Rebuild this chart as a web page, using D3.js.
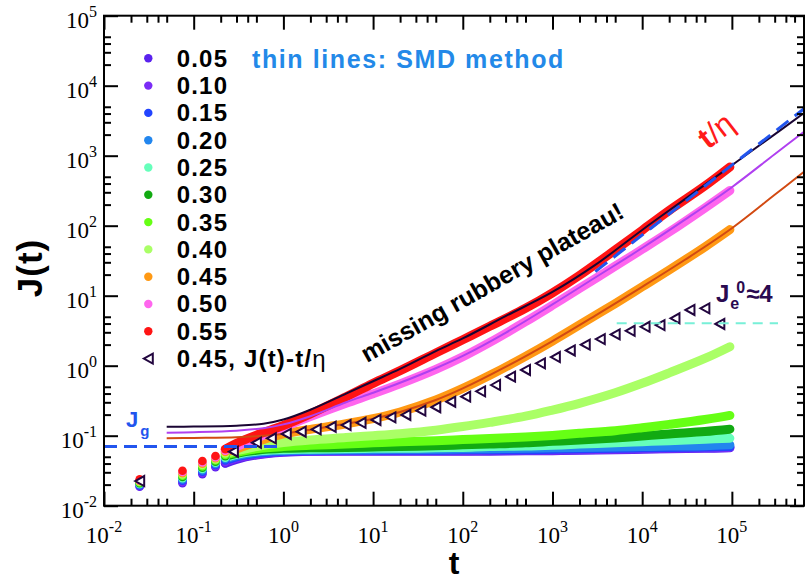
<!DOCTYPE html>
<html>
<head>
<meta charset="utf-8">
<script src="https://cdn.jsdelivr.net/npm/d3@7"></script>
<style>
  body { margin: 0; background: #fff; }
  svg { display: block; }
</style>
</head>
<body>
<svg id="chart" width="805" height="581"></svg>
<script>
// ---- data -------------------------------------------------------------
// sampling times of the creep compliance J(t); the first five are drawn as
// separate dots, the rest (from index 4) merge into a thick band
const times = [0.025, 0.075, 0.125, 0.175, 0.225, 0.3, 0.5, 1, 2, 5, 10, 20, 50, 100,
               200, 500, 1000, 2000, 5000, 10000, 20000, 50000, 95000];

const labels = ["0.05", "0.10", "0.15", "0.20", "0.25", "0.30", "0.35", "0.40", "0.45", "0.50", "0.55"];
const colors = ["#5a22ee", "#7b2cf6", "#2244ff", "#2286ee", "#66ffbb", "#12aa12",
                "#66ff14", "#aaff66", "#ff9914", "#ff66ee", "#ff1414"];

const s005 = [0.0187, 0.0209, 0.0281, 0.0354, 0.0404, 0.046, 0.053, 0.058, 0.060, 0.060, 0.060, 0.060, 0.060, 0.060, 0.060, 0.061, 0.061, 0.062, 0.063, 0.064, 0.065, 0.066, 0.067];
const s010 = [0.0191, 0.0218, 0.0293, 0.0367, 0.0423, 0.048, 0.054, 0.059, 0.060, 0.061, 0.061, 0.061, 0.061, 0.061, 0.062, 0.062, 0.062, 0.063, 0.064, 0.065, 0.066, 0.067, 0.068];
const s015 = [0.0195, 0.0227, 0.0306, 0.0381, 0.0443, 0.050, 0.056, 0.060, 0.061, 0.062, 0.062, 0.062, 0.062, 0.063, 0.063, 0.063, 0.064, 0.065, 0.066, 0.067, 0.068, 0.069, 0.070];
const s020 = [0.0200, 0.0237, 0.0320, 0.0396, 0.0464, 0.052, 0.058, 0.061, 0.062, 0.063, 0.063, 0.064, 0.064, 0.065, 0.065, 0.066, 0.067, 0.068, 0.069, 0.070, 0.071, 0.072, 0.074];
const s025 = [0.0205, 0.0247, 0.0334, 0.0411, 0.0486, 0.054, 0.060, 0.063, 0.064, 0.065, 0.066, 0.066, 0.067, 0.068, 0.070, 0.071, 0.073, 0.076, 0.079, 0.082, 0.085, 0.089, 0.092];
const s030 = [0.0210, 0.0257, 0.0349, 0.0426, 0.0508, 0.056, 0.062, 0.066, 0.067, 0.068, 0.069, 0.070, 0.072, 0.074, 0.076, 0.079, 0.083, 0.087, 0.093, 0.099, 0.106, 0.115, 0.124];
const s035 = [0.0215, 0.0268, 0.0365, 0.0442, 0.0532, 0.058, 0.065, 0.070, 0.073, 0.076, 0.079, 0.082, 0.085, 0.088, 0.091, 0.096, 0.101, 0.108, 0.118, 0.130, 0.145, 0.170, 0.195];
const s040 = [0.0221, 0.0279, 0.0381, 0.0459, 0.0557, 0.061, 0.070, 0.080, 0.087, 0.094, 0.100, 0.107, 0.120, 0.135, 0.155, 0.190, 0.232, 0.290, 0.410, 0.560, 0.790, 1.27, 1.87];
const s045 = [0.0226, 0.0291, 0.0398, 0.0476, 0.0584, 0.065, 0.0818, 0.106, 0.123, 0.148, 0.175, 0.218, 0.323, 0.473, 0.728, 1.36, 2.25, 3.82, 7.73, 13.4, 23.3, 49.8, 88];
const s050 = [0.0232, 0.0303, 0.0416, 0.0494, 0.0611, 0.070, 0.0923, 0.132, 0.188, 0.291, 0.397, 0.55, 0.885, 1.34, 2.15, 4.25, 7.3, 12.7, 26.4, 46, 81, 179, 318];
const s055 = [0.0238, 0.0316, 0.0435, 0.0513, 0.064, 0.078, 0.102, 0.140, 0.205, 0.360, 0.56, 0.85, 1.52, 2.35, 3.65, 6.6, 11, 19.5, 45, 86, 165, 370, 690];
const seriesValues = [s005, s010, s015, s020, s025, s030, s035, s040, s045, s050, s055];

// thin lines: SMD method for 0.45, 0.50, 0.55
const smdTimes = [0.05, 0.1, 0.3, 0.6, 1, 2, 5, 10, 20, 50, 100, 300, 1000, 3000, 10000, 30000, 100000, 300000, 637000];
const smd045 = [0.092, 0.093, 0.095, 0.100, 0.107, 0.122, 0.148, 0.175, 0.218, 0.323, 0.473, 0.96, 2.25, 5.2, 13.4, 32.6, 92, 276, 590];
const smd050 = [0.110, 0.112, 0.118, 0.128, 0.145, 0.190, 0.30, 0.41, 0.57, 0.92, 1.38, 2.95, 7.5, 18.2, 48, 122, 355, 1050, 2200];
const smd055 = [0.134, 0.135, 0.139, 0.148, 0.170, 0.235, 0.40, 0.60, 0.90, 1.62, 2.45, 5.1, 11.3, 27.5, 87, 240, 730, 2020, 4070];
const smdColors = ["#d24a12", "#b040f0", "#1a0533"];

// 0.45 with the viscous part removed: J(t) - t/eta
const triTimes = [0.025, 0.277, 0.5, 0.734, 1.077, 1.58, 2.32, 3.41, 5, 7.34, 10.77, 15.8, 23.2, 34.1,
                  50, 73.4, 107.7, 158, 232, 341, 500, 734, 1077, 1580, 2320, 3410, 5000, 7340,
                  10770, 15800, 23200, 34100, 50000, 73400];
const triValues = [0.0225, 0.059, 0.0794, 0.0918, 0.106, 0.114, 0.123, 0.134, 0.142, 0.153, 0.168, 0.183,
                   0.198, 0.228, 0.255, 0.306, 0.361, 0.43, 0.53, 0.697, 0.869, 1.08, 1.33, 1.65, 2.0,
                   2.4, 2.8, 3.15, 3.6, 3.8, 4.76, 6.25, 6.6, 3.95];

// reference levels
const eta = 136;                 // viscous line t/eta
const etaRange = [3000, 637000];
const Jg = 0.07;                 // glassy compliance
const JgRange = [0.01, 1.0];
const Je0 = 4.04;                // steady-state compliance
const Je0Range = [5200, 327000];

const xMajor = [1e-2, 1e-1, 1e0, 1e1, 1e2, 1e3, 1e4, 1e5];
const xExp = ["-2", "-1", "0", "1", "2", "3", "4", "5"];
const yMajor = [1e-2, 1e-1, 1e0, 1e1, 1e2, 1e3, 1e4, 1e5];
const yExp = ["-2", "-1", "0", "1", "2", "3", "4", "5"];
const minorMult = [2, 3, 4, 5];

// ---- layout -----------------------------------------------------------
const L = 104, R = 804, T = 15.7, B = 505.7;
const svg = d3.select("#chart");
const x = d3.scaleLog().domain([0.01, 637000]).range([L, R]);
const y = d3.scaleLog().domain([0.01, 1e5]).range([B, T]);

svg.append("defs").append("clipPath").attr("id", "plot")
  .append("rect").attr("x", L).attr("y", T).attr("width", R - L).attr("height", B - T);

const plot = svg.append("g").attr("clip-path", "url(#plot)");
const lineGen = d3.line().x(d => x(d[0])).y(d => y(d[1])).curve(d3.curveCatmullRom.alpha(0.5));

// thick bands (dense data)
seriesValues.forEach((vals, i) => {
  const pts = times.map((t, k) => [t, vals[k]]).slice(4);
  plot.append("path").attr("d", lineGen(pts))
    .attr("fill", "none").attr("stroke", colors[i]).attr("stroke-width", 9)
    .attr("stroke-linecap", "round").attr("stroke-linejoin", "round");
});
// early separate dots
seriesValues.forEach((vals, i) => {
  plot.selectAll(null).data(times.slice(0, 5).map((t, k) => [t, vals[k]])).enter()
    .append("circle").attr("cx", d => x(d[0])).attr("cy", d => y(d[1]))
    .attr("r", 4.3).attr("fill", colors[i]);
});

// SMD thin lines
[smd045, smd050, smd055].forEach((vals, i) => {
  plot.append("path").attr("d", lineGen(smdTimes.map((t, k) => [t, vals[k]])))
    .attr("fill", "none").attr("stroke", smdColors[i]).attr("stroke-width", 2);
});

// triangles J(t) - t/eta
const triPath = "M-4.5,0L4.5,-5L4.5,5Z";
plot.selectAll(null).data(triTimes.map((t, k) => [t, triValues[k]])).enter()
  .append("path").attr("d", triPath)
  .attr("transform", d => `translate(${x(d[0])},${y(d[1])})`)
  .attr("fill", "#fff").attr("stroke", "#22063f").attr("stroke-width", 2);

// reference dashed lines
plot.append("line")
  .attr("x1", x(JgRange[0])).attr("x2", x(JgRange[1])).attr("y1", y(Jg)).attr("y2", y(Jg))
  .attr("stroke", "#2255ee").attr("stroke-width", 3).attr("stroke-dasharray", "13 7");
plot.append("line")
  .attr("x1", x(etaRange[0])).attr("x2", x(etaRange[1]))
  .attr("y1", y(etaRange[0] / eta)).attr("y2", y(etaRange[1] / eta))
  .attr("stroke", "#2255ee").attr("stroke-width", 3).attr("stroke-dasharray", "15 8");
plot.append("line")
  .attr("x1", x(Je0Range[0])).attr("x2", x(Je0Range[1])).attr("y1", y(Je0)).attr("y2", y(Je0))
  .attr("stroke", "#78f0d8").attr("stroke-width", 2).attr("stroke-dasharray", "10 7");

// ---- axes -------------------------------------------------------------
const xMinor = [], yMinor = [];
xMajor.forEach(v => minorMult.forEach(m => { if (v * m <= 637000) xMinor.push(v * m); }));
yMajor.slice(0, -1).forEach(v => minorMult.forEach(m => yMinor.push(v * m)));

function addAxis(gen, tr, vals, size) {
  const g = svg.append("g").attr("transform", tr)
    .call(gen.tickValues(vals).tickSize(size).tickFormat(""));
  g.select(".domain").remove();
  g.selectAll("line").attr("stroke", "#000").attr("stroke-width", 2);
}
addAxis(d3.axisBottom(x), `translate(0,${B})`, xMajor, -14);
addAxis(d3.axisBottom(x), `translate(0,${B})`, xMinor, -7);
addAxis(d3.axisTop(x), `translate(0,${T})`, xMajor, -14);
addAxis(d3.axisTop(x), `translate(0,${T})`, xMinor, -7);
addAxis(d3.axisLeft(y), `translate(${L},0)`, yMajor, -14);
addAxis(d3.axisLeft(y), `translate(${L},0)`, yMinor, -7);
addAxis(d3.axisRight(y), `translate(${R},0)`, yMajor, -14);
addAxis(d3.axisRight(y), `translate(${R},0)`, yMinor, -7);

svg.append("rect").attr("x", L).attr("y", T).attr("width", R - L).attr("height", B - T)
  .attr("fill", "none").attr("stroke", "#000").attr("stroke-width", 2);

const serif = "'Liberation Serif', 'Times New Roman', serif";
const sans = "'Liberation Sans', Arial, Helvetica, sans-serif";

xMajor.forEach((v, i) => {
  const t = svg.append("text").attr("x", x(v)).attr("y", 543)
    .attr("text-anchor", "middle").attr("font-family", serif).attr("font-size", 23);
  t.append("tspan").text("10");
  t.append("tspan").attr("dy", -11).attr("font-size", 16).text(xExp[i]);
});
yMajor.forEach((v, i) => {
  const t = svg.append("text").attr("x", 97).attr("y", y(v) + 12)
    .attr("text-anchor", "end").attr("font-family", serif).attr("font-size", 23);
  t.append("tspan").text("10");
  t.append("tspan").attr("dy", -11).attr("font-size", 16).text(yExp[i]);
});

svg.append("text").attr("transform", "translate(42,268) rotate(-90)")
  .attr("text-anchor", "middle").attr("font-family", sans).attr("font-weight", "bold")
  .attr("font-size", 35).attr("letter-spacing", 1).text("J(t)");
svg.append("text").attr("x", 454).attr("y", 574)
  .attr("text-anchor", "middle").attr("font-family", sans).attr("font-weight", "bold")
  .attr("font-size", 32).text("t");

// ---- legend -----------------------------------------------------------
const legX = 148.3, legY = 58.3, legStep = 27.3, legTextX = 176.7;
labels.forEach((lab, i) => {
  const cy = legY + legStep * i;
  svg.append("circle").attr("cx", legX).attr("cy", cy).attr("r", 4.2).attr("fill", colors[i]);
  svg.append("text").attr("x", legTextX).attr("y", cy + 8.4)
    .attr("font-family", sans).attr("font-weight", "bold").attr("font-size", 24)
    .attr("letter-spacing", 1.2).text(lab);
});
{
  const cy = legY + legStep * labels.length;
  svg.append("path").attr("d", triPath).attr("transform", `translate(${legX},${cy})`)
    .attr("fill", "#fff").attr("stroke", "#22063f").attr("stroke-width", 2);
  const t = svg.append("text").attr("x", legTextX).attr("y", cy + 8.4)
    .attr("font-family", sans).attr("font-weight", "bold").attr("font-size", 24)
    .attr("letter-spacing", 1.2);
  t.append("tspan").text("0.45, J(t)-t/");
  t.append("tspan").attr("font-weight", "normal").text("η");
}

// ---- annotations ------------------------------------------------------
svg.append("text").attr("x", 252).attr("y", 68)
  .attr("font-family", sans).attr("font-weight", "bold").attr("font-size", 25)
  .attr("letter-spacing", 1.6).attr("fill", "#2389e8").text("thin lines: SMD method");

svg.append("text").attr("transform", "translate(367,363) rotate(-29.5)")
  .attr("font-family", sans).attr("font-weight", "bold").attr("font-size", 25)
  .attr("fill", "#000").text("missing rubbery plateau!");

{
  const t = svg.append("text").attr("transform", "translate(708,150) rotate(-38)")
    .attr("font-family", sans).attr("font-size", 31).attr("fill", "#ff1a1a");
  t.append("tspan").attr("font-weight", "bold").text("t");
  t.append("tspan").text("/η");
}
{
  const t = svg.append("text").attr("x", 126).attr("y", 427)
    .attr("font-family", sans).attr("font-weight", "bold").attr("fill", "#2255ee");
  t.append("tspan").attr("font-size", 22).text("J");
  t.append("tspan").attr("font-size", 15).attr("dy", 9).attr("dx", 2).text("g");
}
{
  const t = svg.append("text").attr("x", 716).attr("y", 302)
    .attr("font-family", sans).attr("font-weight", "bold").attr("fill", "#2a0a50");
  t.append("tspan").attr("font-size", 24).text("J");
  t.append("tspan").attr("font-size", 16).attr("dy", 7).attr("dx", 1).text("e");
  t.append("tspan").attr("font-size", 16).attr("dy", -16).attr("dx", -3).text("0");
  t.append("tspan").attr("font-size", 24).attr("dy", 9).attr("dx", 1).text("≈4");
}
</script>
</body>
</html>
